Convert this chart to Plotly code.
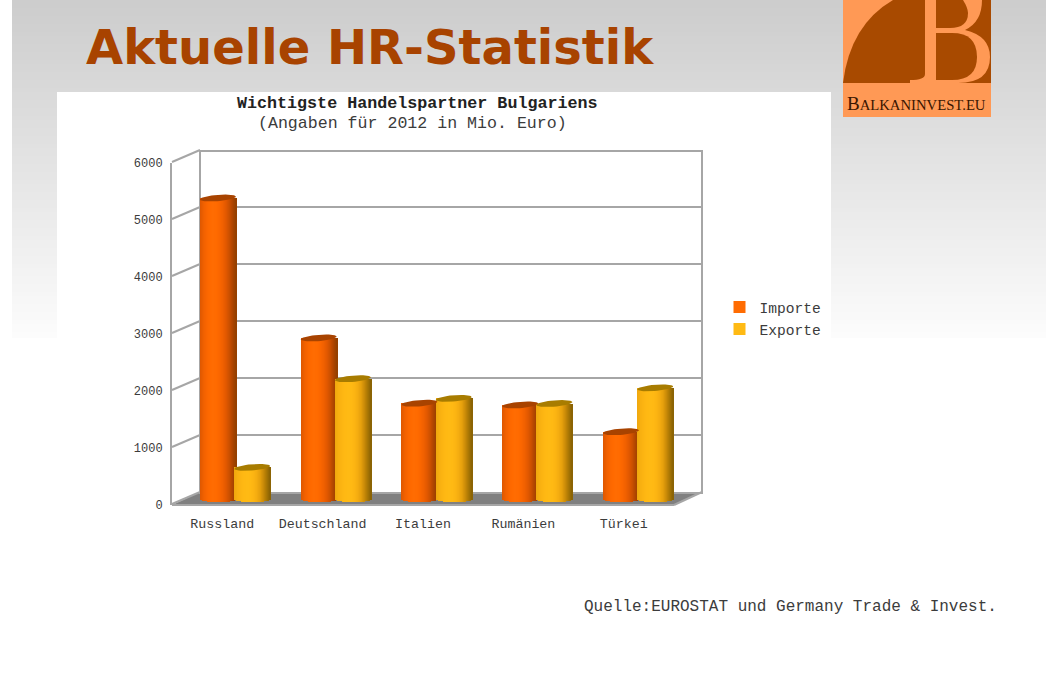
import numpy as np
import plotly.graph_objects as go

W, H = 1058, 675

categories = ["Russland", "Deutschland", "Italien", "Rumänien", "Türkei"]
importe = [5280, 2825, 1680, 1650, 1180]
exporte = [555, 2110, 1765, 1675, 1950]
y_ticks = [0, 1000, 2000, 3000, 4000, 5000, 6000]

# left to right shading of a cylinder, r/g/b
orange_shade = [(224, 88, 0), (240, 96, 0), (250, 102, 0), (255, 106, 0), (255, 108, 2), (255, 106, 0), (250, 102, 0),
                (240, 96, 0), (226, 88, 0), (204, 80, 0), (176, 69, 0), (150, 64, 0)]
yellow_shade = [(240, 168, 14), (248, 176, 16), (253, 181, 18), (255, 185, 19), (255, 186, 20), (255, 185, 19),
                (252, 180, 18), (244, 172, 16), (230, 160, 12), (204, 140, 8), (172, 120, 4), (140, 100, 4)]
orange_cap = "#a84300"
yellow_cap = "#a87c00"
N_STRIPS = 36


def px(x):
    return x / W


def py(y):
    return 1 - y / H


def strip_colors(shade):
    # spreads the shade list over all the strips of one cylinder
    pos = np.linspace(0, len(shade) - 1, N_STRIPS)
    out = []
    for p in pos:
        rgb = [np.interp(p, range(len(shade)), [s[c] for s in shade]) for c in range(3)]
        out.append("rgb({:.0f},{:.0f},{:.0f})".format(*rgb))
    return out


def path_shape(points, color):
    d = ""
    for cmd, coords in points:
        d += cmd + " ".join(f"{px(coords[i]):.5f},{py(coords[i + 1]):.5f}" for i in range(0, len(coords), 2))
    return dict(type="path", path=d + "Z", xref="paper", yref="paper",
                fillcolor=color, line=dict(width=0), layer="below")


def rect(x0, y0, x1, y1, color):
    return dict(type="rect", xref="paper", yref="paper", x0=px(x0), x1=px(x1), y0=py(y0), y1=py(y1),
                fillcolor=color, line=dict(width=0), layer="below")


def line(x0, y0, x1, y1, color="#a6a6a6", width=2):
    return dict(type="line", xref="paper", yref="paper", x0=px(x0), x1=px(x1), y0=py(y0), y1=py(y1),
                line=dict(color=color, width=width), layer="below")


shapes = []

# grey page band, fades out to white. strips overlap so no seams show
for top in range(0, 338, 4):
    grey = int(205 + (253 - 205) * top / 338)
    shapes.append(rect(12, top, 1046, min(top + 6, 338), f"rgb({grey},{grey},{grey})"))
shapes.append(rect(57, 92, 831, 345, "#ffffff"))

# logo
shapes.append(rect(843, 0, 991, 117, "#ff9955"))
shapes.append(path_shape([("M", [843, 83]), ("Q", [850, 25, 893, 0]), ("L", [991, 0]), ("L", [991, 83])], "#a84a00"))
shapes.append(path_shape([("M", [925, 0]), ("L", [925, 74]), ("Q", [925, 80, 910, 80]), ("L", [910, 83]),
                          ("L", [958, 83]), ("Q", [990, 83, 990, 57]), ("Q", [990, 36, 965, 30]),
                          ("Q", [982, 22, 982, 0])], "#ff9955"))
shapes.append(path_shape([("M", [936, 0]), ("L", [963, 0]), ("Q", [968, 8, 968, 13]), ("Q", [968, 28, 950, 28]),
                          ("L", [936, 28])], "#a84a00"))
shapes.append(path_shape([("M", [936, 33]), ("L", [952, 33]), ("Q", [977, 33, 977, 57]), ("Q", [977, 80, 952, 80]),
                          ("L", [936, 80])], "#a84a00"))

# 3d floor and side wall of the chart
shapes.append(path_shape([("M", [172, 505]), ("L", [200, 492]), ("L", [702, 492]), ("L", [674, 505])], "#808080"))
shapes.append(line(172, 505, 674, 505))
shapes.append(line(674, 505, 702, 492))
for t in y_ticks:
    shapes.append(line(172, 504 - t * 0.057, 200, 492 - t * 0.057))

fig = go.Figure()

# back wall with gridlines
fig.add_trace(go.Scatter(x=[0], y=[0], xaxis="x", yaxis="y", mode="markers", marker=dict(opacity=0),
                         showlegend=False, hoverinfo="skip"))

# cylinders, each one built from narrow shaded strips
bar_w = 36 / 100.75
strip_w = bar_w / N_STRIPS
drop = 55
for name, values, shade, cap, shift in [("Importe", importe, orange_shade, orange_cap, -0.34 / 2),
                                        ("Exporte", exporte, yellow_shade, yellow_cap, 0.34 / 2)]:
    for i, color in enumerate(strip_colors(shade)):
        t = (i + 0.5) / N_STRIPS * 2 - 1
        base = -drop * np.sqrt(1 - t * t)
        fig.add_trace(go.Bar(x=list(range(len(categories))), y=[v - base for v in values], base=base,
                             width=strip_w * 1.6, offset=shift + t * bar_w / 2 - strip_w / 2,
                             marker=dict(color=color, line=dict(width=0)),
                             xaxis="x2", yaxis="y2", name=name, legendgroup=name,
                             showlegend=i == N_STRIPS // 3, hoverinfo="skip"))
    angles = np.linspace(0, 2 * np.pi, 40)
    for k, v in enumerate(values):
        fig.add_trace(go.Scatter(x=k + shift + bar_w / 2 * np.cos(angles),
                                 y=v + 55 * np.sin(angles) + 25 * np.cos(angles),
                                 mode="lines", fill="toself", fillcolor=cap, line=dict(width=0),
                                 xaxis="x2", yaxis="y2", showlegend=False, hoverinfo="skip"))

# front axis with the labels
fig.add_trace(go.Scatter(x=[0], y=[0], xaxis="x3", yaxis="y3", mode="markers", marker=dict(opacity=0),
                         showlegend=False, hoverinfo="skip"))

mono = "Liberation Mono"
text_color = "#3c3c3c"

fig.update_layout(
    width=W, height=H,
    margin=dict(l=0, r=0, t=0, b=0, pad=0, autoexpand=False),
    paper_bgcolor="#ffffff", plot_bgcolor="rgba(0,0,0,0)",
    barmode="overlay", bargap=0,
    shapes=shapes,
    legend=dict(x=px(719.5), y=py(291), xanchor="left", yanchor="top", bgcolor="rgba(0,0,0,0)", tracegroupgap=0,
                font=dict(family=mono, size=14.6, color=text_color), itemclick=False, itemdoubleclick=False),
    # back wall
    xaxis=dict(domain=[px(201), px(701)], range=[0, 1], showticklabels=False, ticks="", showgrid=False,
               zeroline=False, showline=True, linecolor="#a6a6a6", linewidth=2, mirror=True),
    yaxis=dict(domain=[py(492), py(152)], range=[0, 5965], tickvals=y_ticks, showticklabels=False, ticks="",
               showgrid=True, gridcolor="#a6a6a6", gridwidth=2, zeroline=False,
               showline=True, linecolor="#a6a6a6", linewidth=2, mirror=True),
    # bars sit half way between the wall and the front edge
    xaxis2=dict(domain=[px(184.6), px(688.4)], range=[-0.5, 4.5], visible=False, anchor="y2"),
    yaxis2=dict(domain=[py(504.7), py(157)], range=[-100, 6000], visible=False, anchor="x2"),
    # front axis
    xaxis3=dict(domain=[px(172), px(674)], range=[-0.5, 4.5], tickvals=list(range(len(categories))),
                ticktext=categories, tickfont=dict(family=mono, size=13.3, color=text_color),
                ticks="outside", ticklen=6, tickcolor="rgba(0,0,0,0)", showgrid=False, zeroline=False,
                showline=False, anchor="y3"),
    yaxis3=dict(domain=[py(505), py(163)], range=[0, 6000], tickvals=y_ticks,
                tickfont=dict(family=mono, size=12, color=text_color),
                ticks="outside", ticklen=5, tickcolor="rgba(0,0,0,0)", showgrid=False, zeroline=False,
                showline=True, linecolor="#a6a6a6", linewidth=2, anchor="x3"),
    annotations=[
        dict(text="<b>Aktuelle HR-Statistik</b>", x=px(84), y=py(47), xref="paper", yref="paper", xanchor="left",
             yanchor="middle", showarrow=False, font=dict(family="DejaVu Sans", size=48, color="#a84300")),
        dict(text="<b>Wichtigste Handelspartner Bulgariens</b>", x=px(417), y=py(104), xref="paper", yref="paper",
             xanchor="center", yanchor="middle", showarrow=False, font=dict(family=mono, size=16.7, color="#222222")),
        dict(text="(Angaben für 2012 in Mio. Euro)", x=px(412), y=py(123), xref="paper", yref="paper",
             xanchor="center", yanchor="middle", showarrow=False, font=dict(family=mono, size=16.6, color=text_color)),
        dict(text="Quelle:EUROSTAT und Germany Trade &amp; Invest.", x=px(999), y=py(607), xref="paper", yref="paper",
             xanchor="right", yanchor="middle", showarrow=False, font=dict(family=mono, size=16, color=text_color)),
        dict(text="B<span style='font-size:14.7px'>ALKANINVEST.EU</span>", x=px(916), y=py(104), xref="paper",
             yref="paper", xanchor="center", yanchor="middle", showarrow=False,
             font=dict(family="Liberation Serif", size=19, color="#3a1500")),
    ],
)

fig.write_html("out.html", config={"displayModeBar": False},
               post_script="document.body.style.margin='0';document.body.style.overflow='hidden';")
